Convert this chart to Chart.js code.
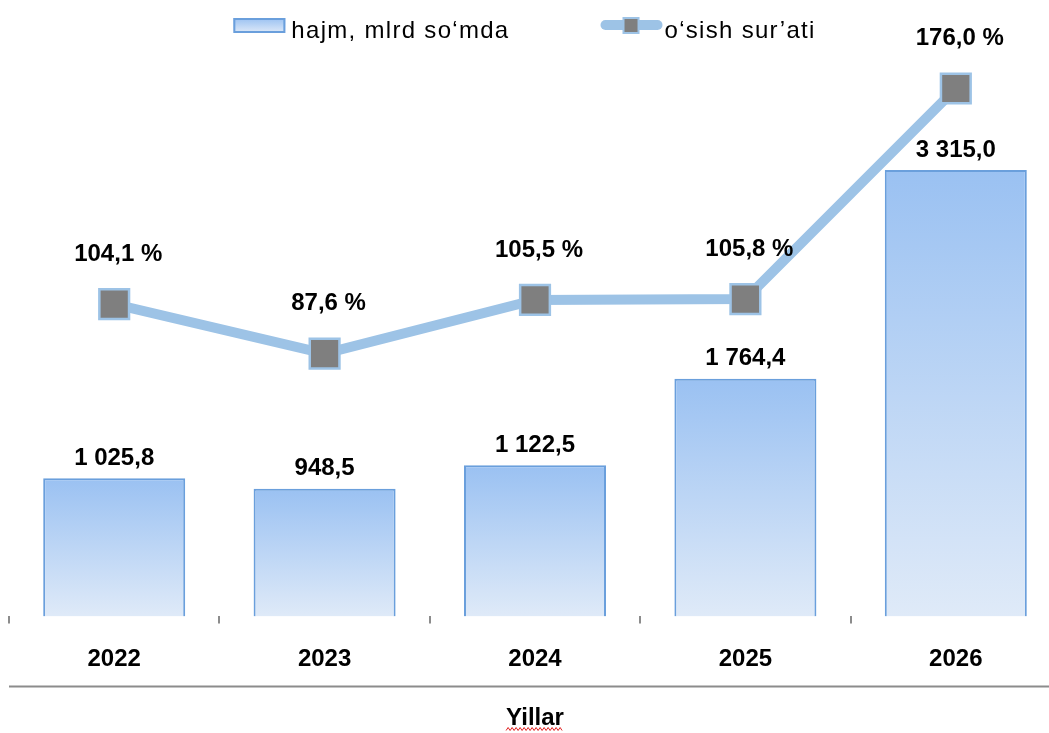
<!DOCTYPE html>
<html>
<head>
<meta charset="utf-8">
<script src="https://cdn.jsdelivr.net/npm/chart.js@4"></script>
<style>
  html, body { margin:0; padding:0; background:#fff; overflow:hidden; }
  #chart { display:block; }
</style>
</head>
<body>
<canvas id="chart" width="1061" height="733"></canvas>
<script>
// data
var years = ['2022', '2023', '2024', '2025', '2026']
var hajm = [1025.8, 948.5, 1122.5, 1764.4, 3315.0]
var osish = [104.1, 87.6, 105.5, 105.8, 176.0]
var hajmLabel = 'hajm, mlrd so‘mda'
var osishLabel = 'o‘sish sur’ati'
var axisTitle = 'Yillar'

var FONT = '"Liberation Sans", Arial, sans-serif'
var LINE_BLUE = '#9dc3e6'
var BAR_BORDER = '#6a9fdc'
var BAR_TOP = '#9ac1f2'
var BAR_BOTTOM = '#dfeaf8'
var MARKER = '#7f7f7f'

// 1025.8 -> "1 025,8"
function fmt(v){
    var s = v.toFixed(1).split('.')
    return s[0].replace(/\B(?=(\d{3})+(?!\d))/g, ' ') + ',' + s[1]
}

// gradient runs top to bottom inside each bar
function barFill(c){
    var chart = c.chart
    if(!chart.chartArea || c.dataIndex === undefined) return BAR_TOP
    var y = chart.scales.y
    var top = y.getPixelForValue(c.raw)
    var bottom = y.getPixelForValue(0)
    var g = chart.ctx.createLinearGradient(0, top, 0, bottom)
    g.addColorStop(0, BAR_TOP)
    g.addColorStop(1, BAR_BOTTOM)
    return g
}

// value labels above bars and points
var valueLabels = {
    id: 'valueLabels',
    afterDatasetsDraw: function(chart){
        var ctx = chart.ctx
        ctx.save()
        ctx.fillStyle = '#000'
        ctx.font = 'bold 24px ' + FONT
        ctx.textAlign = 'center'
        ctx.textBaseline = 'middle'
        chart.getDatasetMeta(1).data.forEach(function(bar, i){
            ctx.fillText(fmt(hajm[i]), bar.x, bar.y - 20)
        })
        chart.getDatasetMeta(0).data.forEach(function(pt, i){
            ctx.fillText(fmt(osish[i]) + ' %', pt.x + 4, pt.y - 50)
        })
        ctx.restore()
    }
}

// legend at the top, separator line, spell-check squiggle under the title
var decorations = {
    id: 'decorations',
    afterDraw: function(chart){
        var ctx = chart.ctx
        var area = chart.chartArea
        ctx.save()

        // legend
        ctx.font = '24px ' + FONT
        ctx.letterSpacing = '1.3px'
        var w1 = ctx.measureText(hajmLabel).width
        var w2 = ctx.measureText(osishLabel).width
        var total = 52 + 6 + w1 + 91 + 62 + 2 + w2
        var x = window.innerWidth / 2 - total / 2
        var g = ctx.createLinearGradient(0, 18, 0, 33)
        g.addColorStop(0, BAR_TOP)
        g.addColorStop(1, BAR_BOTTOM)
        ctx.fillStyle = g
        ctx.fillRect(x, 18, 52, 15)
        ctx.strokeStyle = BAR_BORDER
        ctx.lineWidth = 2
        ctx.strokeRect(x + 1, 19, 50, 13)
        ctx.fillStyle = '#000'
        ctx.textBaseline = 'alphabetic'
        ctx.fillText(hajmLabel, x + 58, 38)
        x += 58 + w1 + 91
        ctx.strokeStyle = LINE_BLUE
        ctx.lineWidth = 10
        ctx.lineCap = 'round'
        ctx.beginPath()
        ctx.moveTo(x + 5, 25)
        ctx.lineTo(x + 57, 25)
        ctx.stroke()
        ctx.fillStyle = LINE_BLUE
        ctx.fillRect(x + 22, 17, 17, 17)
        ctx.fillStyle = MARKER
        ctx.fillRect(x + 24, 19, 13, 13)
        ctx.fillStyle = '#000'
        ctx.fillText(osishLabel, x + 64, 38)
        ctx.letterSpacing = '0px'

        // separator between year labels and axis title
        var sy = area.bottom + 70
        ctx.strokeStyle = '#8c8c8c'
        ctx.lineWidth = 2
        ctx.lineCap = 'butt'
        ctx.beginPath()
        ctx.moveTo(area.left, sy)
        ctx.lineTo(chart.width, sy)
        ctx.stroke()

        // red wavy underline
        ctx.font = 'bold 24px ' + FONT
        var tw = ctx.measureText(axisTitle).width
        var cx = (area.left + area.right) / 2
        var uy = chart.height - 4
        ctx.strokeStyle = '#e02020'
        ctx.lineWidth = 1
        ctx.beginPath()
        for(var i = 0, px = cx - tw / 2; px <= cx + tw / 2; px += 2, i++){
            var py = uy + (i % 2 ? -1.5 : 1.5)
            if(i === 0) ctx.moveTo(px, py)
            else ctx.lineTo(px, py)
        }
        ctx.stroke()
        ctx.restore()
    }
}

var ctx = document.getElementById('chart').getContext('2d')
var chart = new Chart(ctx, {
    data: {
        labels: years,
        datasets: [{
            type: 'line',
            label: osishLabel,
            data: osish,
            yAxisID: 'y2',
            borderColor: LINE_BLUE,
            borderWidth: 10,
            pointStyle: 'rect',
            pointRadius: 21,
            pointBackgroundColor: MARKER,
            pointBorderColor: LINE_BLUE,
            pointBorderWidth: 2.5,
            clip: false,
            order: 0
        }, {
            type: 'bar',
            label: hajmLabel,
            data: hajm,
            yAxisID: 'y',
            backgroundColor: barFill,
            borderColor: BAR_BORDER,
            borderWidth: 2,
            categoryPercentage: 1,
            barPercentage: 0.675,
            order: 1
        }]
    },
    plugins: [valueLabels, decorations],
    options: {
        responsive: false,
        animation: false,
        layout: {
            autoPadding: false,
            padding: { top: 60, left: 9, right: 0, bottom: 0 }
        },
        plugins: {
            legend: { display: false },
            tooltip: { enabled: false }
        },
        scales: {
            x: {
                offset: true,
                grid: {
                    offset: true,
                    drawOnChartArea: false,
                    drawTicks: true,
                    tickLength: 7,
                    lineWidth: 2,
                    color: '#8c8c8c'
                },
                border: { display: false },
                ticks: {
                    color: '#000',
                    padding: 22,
                    font: { family: FONT, size: 24, weight: 'bold' }
                },
                title: {
                    display: true,
                    text: axisTitle,
                    color: '#000',
                    padding: { top: 8, bottom: 0 },
                    font: { family: FONT, size: 24, weight: 'bold' }
                }
            },
            y: { display: false, min: 0, max: 4131 },
            y2: { display: false, position: 'right', min: 0, max: 185.5 }
        }
    }
})
</script>
</body>
</html>
